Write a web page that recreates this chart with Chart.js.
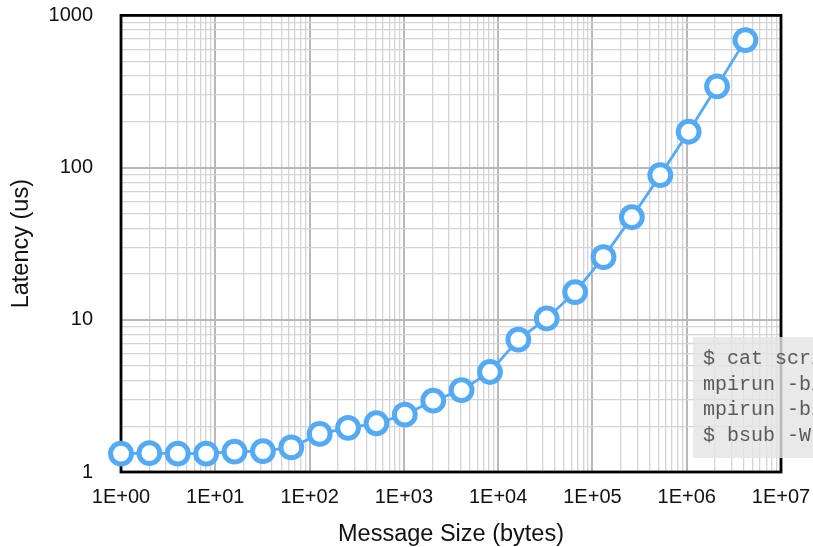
<!DOCTYPE html>
<html>
<head>
<meta charset="utf-8">
<script src="https://cdn.jsdelivr.net/npm/chart.js@4"></script>
<style>
  html, body { margin: 0; padding: 0; background: #fff; overflow: hidden; }
  #wrap { position: relative; width: 813px; height: 547px; overflow: hidden; }
  #cmd {
    position: absolute; left: 693px; top: 337px; width: 150px; height: 121px;
    box-sizing: border-box; padding: 9px 0 0 10px;
    background: rgba(228, 228, 228, 0.82);
    font-family: "Liberation Mono", "DejaVu Sans Mono", monospace;
    font-size: 20px; line-height: 25.5px; color: #5a5a5a; white-space: pre;
  }
</style>
</head>
<body>
<div id="wrap">
  <canvas id="chart" width="813" height="547"></canvas>
  <div id="cmd">$ cat script
mpirun -bind
mpirun -bind
$ bsub -W</div>
</div>
<script>
// ===== Datos =====
const msgSizes = [1, 2, 4, 8, 16, 32, 64, 128, 256, 512, 1024, 2048, 4096, 8192,
  16384, 32768, 65536, 131072, 262144, 524288, 1048576, 2097152, 4194304];
const latency = [1.32, 1.33, 1.32, 1.32, 1.36, 1.37, 1.45, 1.78, 1.95, 2.09, 2.38, 2.94,
  3.45, 4.54, 7.41, 10.2, 15.2, 25.8, 47.2, 89.2, 172, 342, 688];
const xDecades = [1, 10, 100, 1000, 10000, 100000, 1000000, 10000000];
const xTickLabels = ['1E+00', '1E+01', '1E+02', '1E+03', '1E+04', '1E+05', '1E+06', '1E+07'];
const yDecades = [1, 10, 100, 1000];
const yTickLabels = ['1', '10', '100', '1000'];

const blue = '#55aaf6';
const font = { family: '"Liberation Sans", Arial, sans-serif', size: 20 };
const titleFont = { family: '"Liberation Sans", Arial, sans-serif', size: 23.5, lineHeight: 1.05 };

// rejilla 1..9 por década
function gridTicks(decades) {
  const out = [];
  decades.forEach((d, i) => {
    if (i === decades.length - 1) { out.push({ value: d }); return; }
    for (let m = 1; m <= 9; m++) out.push({ value: m * d });
  });
  return out;
}
const isMajor = (decades, v) => decades.some(d => Math.abs(v - d) < d * 1e-9);
const gridColor = decades => ctx => isMajor(decades, ctx.tick.value) ? '#b8b8b8' : '#d4d4d4';
const gridWidth = decades => ctx => isMajor(decades, ctx.tick.value) ? 2 : 1.3;
const noPad = s => { s.paddingTop = 0; s.paddingBottom = 0; s.paddingLeft = 0; s.paddingRight = 0; };

const frame = {
  id: 'frame',
  beforeDatasetsDraw(chart) {
    const a = chart.chartArea, c = chart.ctx;
    c.save();
    c.strokeStyle = '#000';
    c.lineWidth = 2.8;
    c.strokeRect(a.left, a.top, a.right - a.left, a.bottom - a.top);
    c.restore();
  }
};

new Chart(document.getElementById('chart').getContext('2d'), {
  type: 'line',
  data: {
    datasets: [{
      data: msgSizes.map((x, i) => ({ x, y: latency[i] })),
      borderColor: blue, borderWidth: 2.8,
      pointRadius: 10.4, pointBorderWidth: 5,
      pointBackgroundColor: '#fff', pointBorderColor: blue,
      clip: false
    }]
  },
  plugins: [frame],
  options: {
    responsive: false, animation: false, devicePixelRatio: 1,
    layout: { padding: { top: 12, right: 32, left: 0, bottom: 0 } },
    plugins: { legend: { display: false }, tooltip: { enabled: false } },
    scales: {
      x: {
        type: 'logarithmic', min: 1, max: 10000000,
        afterBuildTicks: s => { s.ticks = gridTicks(xDecades); },
        afterFit: s => { s.height = 75; noPad(s); },
        grid: { color: gridColor(xDecades), lineWidth: gridWidth(xDecades), drawTicks: false },
        border: { display: false },
        ticks: {
          autoSkip: false, maxRotation: 0, padding: 13, color: '#111', font,
          callback: v => { const i = xDecades.findIndex(d => Math.abs(v - d) < d * 1e-9); return i >= 0 ? xTickLabels[i] : ''; }
        },
        title: { display: true, text: 'Message Size (bytes)', color: '#111', font: titleFont, padding: 0 }
      },
      y: {
        type: 'logarithmic', min: 1, max: 1000,
        afterBuildTicks: s => { s.ticks = gridTicks(yDecades); },
        afterFit: s => { s.width = 121; noPad(s); },
        grid: { color: gridColor(yDecades), lineWidth: gridWidth(yDecades), drawTicks: false },
        border: { display: false },
        ticks: {
          autoSkip: false, padding: 28, color: '#111', font,
          callback: v => { const i = yDecades.findIndex(d => Math.abs(v - d) < d * 1e-9); return i >= 0 ? yTickLabels[i] : ''; }
        },
        title: { display: true, text: 'Latency (us)', color: '#111', font: titleFont, padding: 9 }
      }
    }
  }
});
</script>
</body>
</html>
